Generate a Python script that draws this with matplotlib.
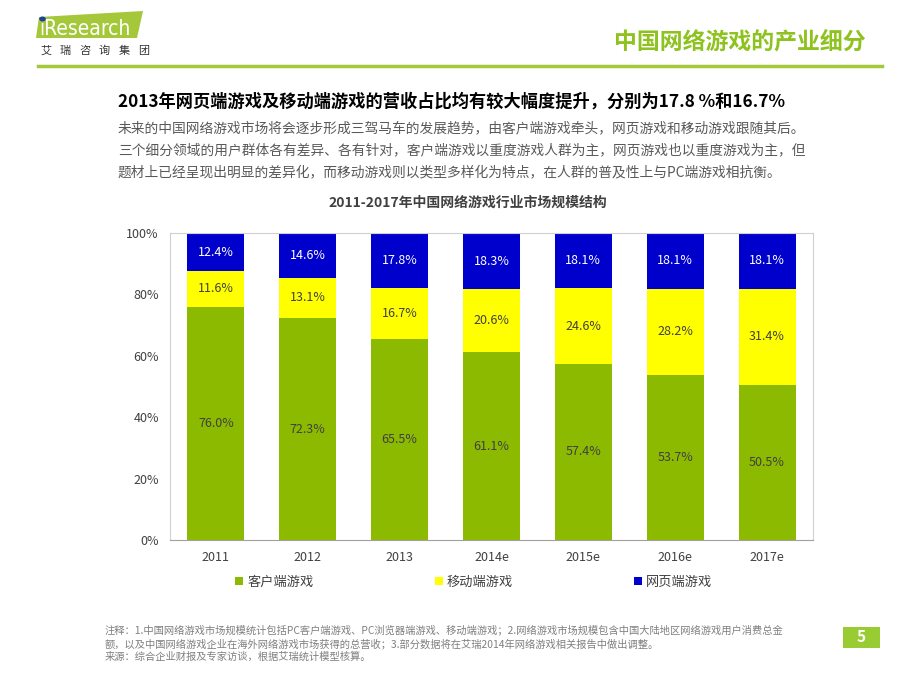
import matplotlib
matplotlib.use("Agg")
import matplotlib.pyplot as plt
from matplotlib.patches import Polygon, Rectangle, Circle
import numpy as np

plt.rcParams['font.family'] = ['Noto Sans CJK SC', 'DejaVu Sans']

categories = ["2011", "2012", "2013", "2014e", "2015e", "2016e", "2017e"]
client_games = [76.0, 72.3, 65.5, 61.1, 57.4, 53.7, 50.5]
mobile_games = [11.6, 13.1, 16.7, 20.6, 24.6, 28.2, 31.4]
web_games = [12.4, 14.6, 17.8, 18.3, 18.1, 18.1, 18.1]
series_names = ["客户端游戏", "移动端游戏", "网页端游戏"]
yticks = [0, 20, 40, 60, 80, 100]

GREEN = "#8CBA00"
YELLOW = "#FFFF00"
BLUE = "#0000CC"
HEAD_GREEN = "#8DC21F"

W, H = 920, 690
fig = plt.figure(figsize=(9.2, 6.9), dpi=100)

def fx(x):
    return x / W

def fy(y):
    return 1 - y / H

# --- header / logo ---
logo = Polygon([(fx(36), fy(38)), (fx(39), fy(17)), (fx(143), fy(11)), (fx(137), fy(38))],
               closed=True, transform=fig.transFigure, facecolor="#A5C83A", edgecolor="none")
fig.patches.append(logo)
fig.patches.append(Circle((fx(42.5), fy(19)), 0.0036, transform=fig.transFigure,
                          facecolor="#1F3F9F", edgecolor="none"))
fig.text(fx(39), fy(29), "\u0131Research", color="white", fontsize=15, va="center", ha="left",
         family=["DejaVu Sans"], fontstretch="condensed")
for i, ch in enumerate("艾瑞咨询集团"):
    fig.text(fx(46 + i * 19.5), fy(51), ch, color="#333333", fontsize=8, va="center", ha="center")
fig.text(fx(866), fy(42), "中国网络游戏的产业细分", color=HEAD_GREEN, fontsize=16.5,
         fontweight="bold", va="center", ha="right")
fig.add_artist(plt.Line2D([fx(38), fx(882)], [fy(66), fy(66)], transform=fig.transFigure,
                          color="#A5C83A", lw=2.5))

# --- heading and body ---
fig.text(fx(118), fy(102), "2013年网页端游戏及移动端游戏的营收占比均有较大幅度提升，分别为17.8 %和16.7%",
         fontsize=12.4, fontweight="bold", color="black", va="center", ha="left")
body = ["未来的中国网络游戏市场将会逐步形成三驾马车的发展趋势，由客户端游戏牵头，网页游戏和移动游戏跟随其后。",
        "三个细分领域的用户群体各有差异、各有针对，客户端游戏以重度游戏人群为主，网页游戏也以重度游戏为主，但",
        "题材上已经呈现出明显的差异化，而移动游戏则以类型多样化为特点，在人群的普及性上与PC端游戏相抗衡。"]
for i, line in enumerate(body):
    fig.text(fx(118), fy(128 + 22 * i), line, fontsize=9.9, color="#595959", va="center", ha="left")

fig.text(fx(468), fy(203), "2011-2017年中国网络游戏行业市场规模结构", fontsize=10,
         fontweight="bold", color="#404040", va="center", ha="center")

# --- chart ---
ax = fig.add_axes([fx(170), fy(540), (813 - 170) / W, (540 - 233) / H])
x = np.arange(len(categories))
bw = 0.62
b1 = ax.bar(x, client_games, bw, color=GREEN, label=series_names[0])
b2 = ax.bar(x, mobile_games, bw, bottom=client_games, color=YELLOW, label=series_names[1])
bottom3 = np.array(client_games) + np.array(mobile_games)
b3 = ax.bar(x, web_games, bw, bottom=bottom3, color=BLUE, label=series_names[2])

for i in range(len(categories)):
    ax.text(x[i], client_games[i] / 2, f"{client_games[i]:.1f}%", ha="center", va="center",
            fontsize=9, color="#404040")
    ax.text(x[i], client_games[i] + mobile_games[i] / 2, f"{mobile_games[i]:.1f}%", ha="center",
            va="center", fontsize=9, color="#404040")
    ax.text(x[i], bottom3[i] + web_games[i] / 2, f"{web_games[i]:.1f}%", ha="center",
            va="center", fontsize=9, color="white")

ax.set_xlim(-0.5, len(categories) - 0.5)
ax.set_ylim(0, 100)
ax.set_yticks(yticks)
ax.set_yticklabels([f"{v}%" for v in yticks])
ax.set_xticks(x)
ax.set_xticklabels(categories)
ax.tick_params(axis="both", length=0, labelsize=9, colors="#404040", pad=8)
for s in ax.spines.values():
    s.set_color("#D0D0D0")
    s.set_linewidth(0.8)
ax.spines["bottom"].set_color("#A0A0A0")

leg = fig.legend(handles=[b1, b2, b3], labels=series_names, loc="center",
                 bbox_to_anchor=(fx(474), fy(582)), ncol=3, frameon=False, fontsize=9.5,
                 handlelength=0.6, handleheight=0.6, handletextpad=0.3, columnspacing=9.2)
for t in leg.get_texts():
    t.set_color("#404040")

# --- footnotes ---
notes = ["注释：1.中国网络游戏市场规模统计包括PC客户端游戏、PC浏览器端游戏、移动端游戏；2.网络游戏市场规模包含中国大陆地区网络游戏用户消费总金",
         "额，以及中国网络游戏企业在海外网络游戏市场获得的总营收；3.部分数据将在艾瑞2014年网络游戏相关报告中做出调整。",
         "来源：综合企业财报及专家访谈，根据艾瑞统计模型核算。"]
for i, line in enumerate(notes):
    fig.text(fx(105), fy(630 + 13.5 * i), line, fontsize=7.4, color="#7F7F7F", va="center", ha="left")

fig.patches.append(Rectangle((fx(843), fy(648)), 37 / W, 21 / H, transform=fig.transFigure,
                             facecolor="#99CC33", edgecolor="none"))
fig.text(fx(861.5), fy(637.5), "5", color="white", fontsize=11, fontweight="bold", ha="center", va="center")

fig.savefig("out.png", dpi=100)
